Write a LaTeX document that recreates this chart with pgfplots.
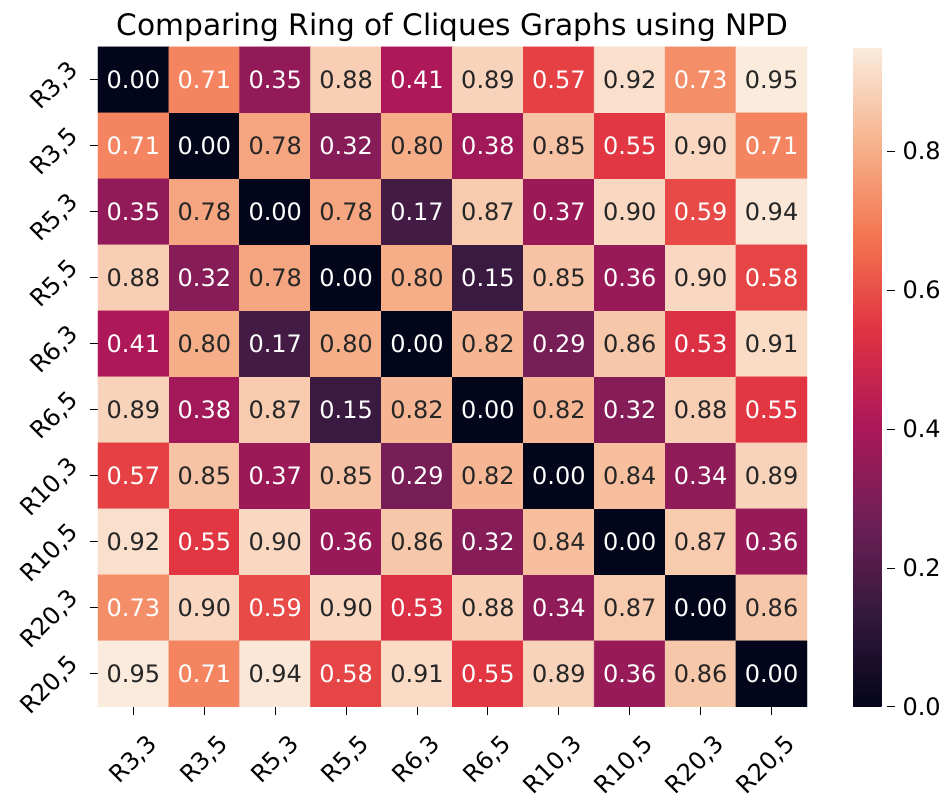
\documentclass[border=0pt]{standalone}
\usepackage{pgfplots}
\usepackage{pgfplotstable}
\pgfplotsset{compat=1.18}
\usepackage{fontspec}
\setmainfont{DejaVu Sans}
\definecolor{annot}{HTML}{262626}
\pgfplotsset{/pgf/number format/assume math mode=true}
\pgfplotsset{colormap={rocket}{rgb255=(3,5,26) rgb255=(53,25,62) rgb255=(112,31,87) rgb255=(173,23,89) rgb255=(225,51,66) rgb255=(243,118,81) rgb255=(246,180,143) rgb255=(250,235,221)}}
\pgfplotstableread{
x y v
0 9 0.00
1 9 0.71
2 9 0.35
3 9 0.88
4 9 0.41
5 9 0.89
6 9 0.57
7 9 0.92
8 9 0.73
9 9 0.95
0 8 0.71
1 8 0.00
2 8 0.78
3 8 0.32
4 8 0.80
5 8 0.38
6 8 0.85
7 8 0.55
8 8 0.90
9 8 0.71
0 7 0.35
1 7 0.78
2 7 0.00
3 7 0.78
4 7 0.17
5 7 0.87
6 7 0.37
7 7 0.90
8 7 0.59
9 7 0.94
0 6 0.88
1 6 0.32
2 6 0.78
3 6 0.00
4 6 0.80
5 6 0.15
6 6 0.85
7 6 0.36
8 6 0.90
9 6 0.58
0 5 0.41
1 5 0.80
2 5 0.17
3 5 0.80
4 5 0.00
5 5 0.82
6 5 0.29
7 5 0.86
8 5 0.53
9 5 0.91
0 4 0.89
1 4 0.38
2 4 0.87
3 4 0.15
4 4 0.82
5 4 0.00
6 4 0.82
7 4 0.32
8 4 0.88
9 4 0.55
0 3 0.57
1 3 0.85
2 3 0.37
3 3 0.85
4 3 0.29
5 3 0.82
6 3 0.00
7 3 0.84
8 3 0.34
9 3 0.89
0 2 0.92
1 2 0.55
2 2 0.90
3 2 0.36
4 2 0.86
5 2 0.32
6 2 0.84
7 2 0.00
8 2 0.87
9 2 0.36
0 1 0.73
1 1 0.90
2 1 0.59
3 1 0.90
4 1 0.53
5 1 0.88
6 1 0.34
7 1 0.87
8 1 0.00
9 1 0.86
0 0 0.95
1 0 0.71
2 0 0.94
3 0 0.58
4 0 0.91
5 0 0.55
6 0 0.89
7 0 0.36
8 0 0.86
9 0 0.00
}\datatable
\begin{document}
\begin{tikzpicture}
\begin{axis}[
  name=ax,
  scale only axis,
  width=354.5pt, height=330pt,
  xmin=-0.5, xmax=9.5, ymin=-0.5, ymax=9.5,
  enlargelimits=false,
  axis line style={draw=none},
  colormap name=rocket,
  point meta min=0, point meta max=0.95,
  xtick={0,...,9}, ytick={0,...,9},
  xticklabels={{R3,3},{R3,5},{R5,3},{R5,5},{R6,3},{R6,5},{R10,3},{R10,5},{R20,3},{R20,5}},
  yticklabels={{R20,5},{R20,3},{R10,5},{R10,3},{R6,5},{R6,3},{R5,5},{R5,3},{R3,5},{R3,3}},
  xtick pos=bottom, ytick pos=left,
  tick align=outside,
  major tick length=4.2pt,
  tick style={black, line width=0.5pt},
  ticklabel style={font=\fontsize{12}{14}\selectfont},
  xticklabel style={xshift=6pt, yshift=-4pt, rotate=45, anchor=north east},
  yticklabel style={yshift=3pt, xshift=1pt, rotate=45, anchor=south east},
  title={Comparing Ring of Cliques Graphs using NPD},
  title style={at={(0.5,1)}, anchor=base, yshift=-0.5pt, font=\fontsize{14.8}{17}\selectfont},
  colorbar,
  colorbar style={
    at={(parent axis.north east)}, anchor=north west, xshift=14.5pt,
    width=17pt,
    ytick={0,0.2,0.4,0.6,0.8},
    yticklabel style={/pgf/number format/fixed, /pgf/number format/precision=1, /pgf/number format/fixed zerofill, font=\fontsize{12}{14}\selectfont},
    axis line style={draw=none},
    tick align=outside, major tick length=4.2pt,
    tick style={black, line width=0.5pt},
    ytick pos=right,
  },
]
\addplot[matrix plot*, mesh/cols=10, point meta=explicit] table[x=x, y=y, meta=v] {\datatable};
\addplot[draw=none, mark=none, point meta=explicit symbolic,
  nodes near coords={\ifdim\pgfplotspointmeta pt<0.75pt \color{white}\else\color{annot}\fi\pgfplotspointmeta},
  every node near coord/.style={anchor=center, inner sep=0pt, font=\fontsize{12}{14}\selectfont}]
  table[x=x, y=y, meta=v] {\datatable};
\end{axis}
\pgfresetboundingbox
\path[use as bounding box] ([xshift=-49pt,yshift=-43.5pt]ax.south west) rectangle ([xshift=69pt,yshift=23.5pt]ax.north east);
\end{tikzpicture}
\end{document}
